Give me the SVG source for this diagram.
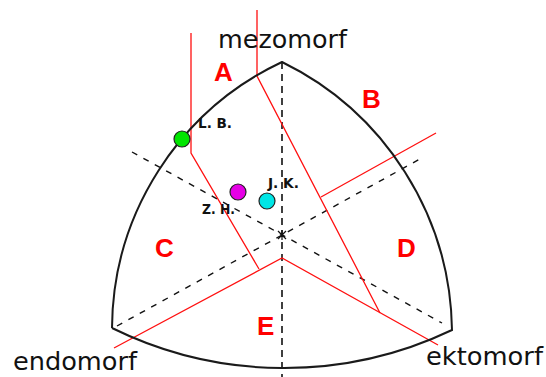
<svg xmlns="http://www.w3.org/2000/svg" width="546" height="377" viewBox="0 0 546 377">
<style>
.arc{fill:none;stroke:#1a1a1a;stroke-width:2}
.dv{fill:none;stroke:#111;stroke-width:1.6;stroke-dasharray:7 5}
.dd{fill:none;stroke:#111;stroke-width:1.4;stroke-dasharray:6 7}
.red{fill:none;stroke:#ff1010;stroke-width:1.3}
.big{font-family:"Liberation Sans",Arial,sans-serif;font-weight:bold;font-size:26px;fill:#ff0000}
.ax{font-family:"DejaVu Sans",Verdana,sans-serif;font-size:24px;fill:#111}
.pl{font-family:"DejaVu Sans",Verdana,sans-serif;font-weight:bold;font-size:14px;fill:#111}
.pt{stroke:#222;stroke-width:1.2}
</style>
<rect width="546" height="377" fill="#fff"/>
<g id="connectors">
<path class="dv" d="M282 62 L282 377"/>
<path class="dd" d="M132 152 L442 323"/>
<path class="dd" d="M117 326 L420 159"/>
<path d="M278 231 L286 239 M286 231 L278 239 M282 230 L282 240" stroke="#111" stroke-width="1.2"/>
<path class="red" d="M191 33 L191 153 L259 269"/>
<path class="red" d="M257 10 L257 76 L380 313"/>
<path class="red" d="M114 348 L282 258 L438 345"/>
<path class="red" d="M321 197 L436 133"/>
</g>
<g id="triangle">
<path class="arc" d="M112 328 A296 296 0 0 1 282 62 A303 303 0 0 1 452 330 A390 390 0 0 1 112 328"/>
</g>
<g id="regions">
<text class="big" x="214" y="81">A</text>
<text class="big" x="362" y="108">B</text>
<text class="big" x="155" y="257">C</text>
<text class="big" x="397" y="257">D</text>
<text class="big" x="257" y="335">E</text>
</g>
<g id="mezomorf"><text class="ax" x="218" y="48" textLength="129" lengthAdjust="spacingAndGlyphs">mezomorf</text></g>
<g id="endomorf"><text class="ax" x="13" y="370" textLength="124" lengthAdjust="spacingAndGlyphs">endomorf</text></g>
<g id="ektomorf"><text class="ax" x="426" y="365" textLength="117" lengthAdjust="spacingAndGlyphs">ektomorf</text></g>
<g id="LB">
<circle class="pt" cx="182" cy="139" r="8" fill="#00e600"/>
<text class="pl" x="198" y="128" textLength="34" lengthAdjust="spacingAndGlyphs">L. B.</text>
</g>
<g id="ZH">
<circle class="pt" cx="238" cy="192" r="8" fill="#e600e6"/>
<text class="pl" x="202" y="214" textLength="33" lengthAdjust="spacingAndGlyphs">Z. H.</text>
</g>
<g id="JK">
<circle class="pt" cx="267" cy="201" r="8" fill="#00e6e6"/>
<text class="pl" x="268" y="188" textLength="31" lengthAdjust="spacingAndGlyphs">J. K.</text>
</g>
</svg>
